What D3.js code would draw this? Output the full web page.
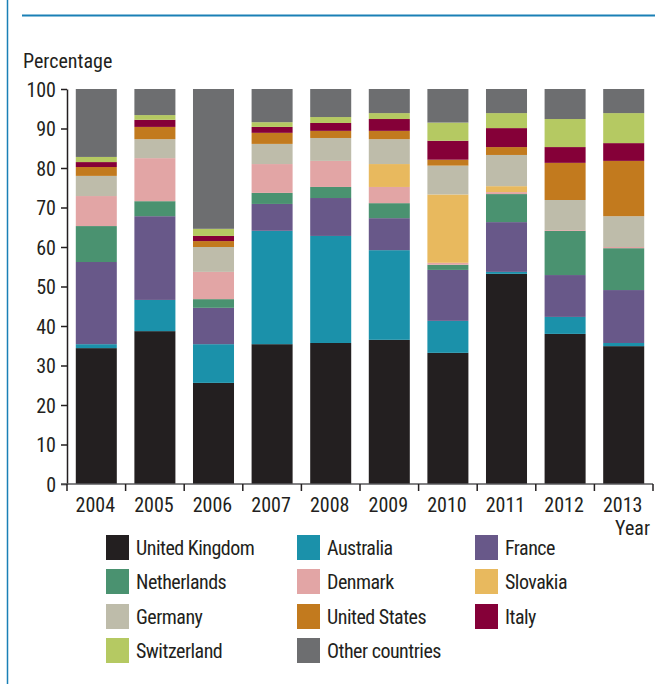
<!DOCTYPE html>
<html>
<head>
<meta charset="utf-8">
<script src="https://cdn.jsdelivr.net/npm/d3@7/dist/d3.min.js"></script>
<style>
  html, body { margin: 0; padding: 0; background: #fff; }
  svg { display: block; }
  text { font-family: "Liberation Sans Narrow", "Roboto Condensed", "DejaVu Sans Condensed", sans-serif; fill: #231f20; }
</style>
</head>
<body>
<svg id="chart" width="659" height="684"></svg>
<script>
const years = ["2004","2005","2006","2007","2008","2009","2010","2011","2012","2013"];
const countries = ["United Kingdom","Australia","France","Netherlands","Denmark","Slovakia","Germany","United States","Italy","Switzerland","Other countries"];
const colors = ["#231f20","#1b91aa","#685889","#4a9270","#e2a5a5","#e8b95e","#bebcaa","#c27a1e","#850038","#b5c962","#6d6e70"];
const unitedKingdom  = [34.4, 38.7, 25.6, 35.4, 35.7, 36.5, 33.2, 53.2, 38.0, 34.9];
const australia      = [1.0, 7.9, 9.8, 28.7, 27.1, 22.7, 8.1, 0.5, 4.3, 0.8];
const france         = [20.8, 21.2, 9.2, 6.8, 9.6, 8.1, 12.9, 12.6, 10.6, 13.4];
const netherlands    = [9.1, 3.8, 2.2, 2.8, 2.8, 3.8, 1.3, 7.1, 11.2, 10.6];
const denmark        = [7.6, 10.9, 6.9, 7.3, 6.6, 4.1, 0.5, 0.5, 0.2, 0.3];
const slovakia       = [0, 0, 0, 0, 0, 5.8, 17.3, 1.5, 0, 0];
const germany        = [5.1, 4.8, 6.3, 5.1, 5.8, 6.3, 7.3, 7.9, 7.6, 7.8];
const unitedStates   = [2.25, 3.1, 1.5, 2.8, 1.8, 2.1, 1.5, 2.0, 9.4, 14.0];
const italy          = [1.25, 1.8, 1.3, 1.5, 2.0, 3.0, 4.8, 4.8, 4.0, 4.5];
const switzerland    = [1.3, 1.2, 1.8, 1.2, 1.5, 1.5, 4.6, 3.8, 7.1, 7.6];
const otherCountries = [17.2, 6.6, 35.4, 8.4, 7.1, 6.1, 8.5, 6.1, 7.6, 6.1];
const yTicks = [0,10,20,30,40,50,60,70,80,90,100];

const series = [unitedKingdom, australia, france, netherlands, denmark, slovakia, germany, unitedStates, italy, switzerland, otherCountries];
const table = years.map((y, i) => {
  const row = { year: y };
  countries.forEach((c, j) => { row[c] = series[j][i]; });
  return row;
});

const svg = d3.select("#chart");

// frame decorations
svg.append("line").attr("x1", 7.5).attr("x2", 7.5).attr("y1", 0).attr("y2", 684)
  .attr("stroke", "#1a80b6").attr("stroke-width", 1.5);
svg.append("line").attr("x1", 22).attr("x2", 655).attr("y1", 15.5).attr("y2", 15.5)
  .attr("stroke", "#1a80b6").attr("stroke-width", 2);

const x = d3.scaleBand().domain(years).range([67, 653]).paddingInner(0.3).paddingOuter(0.15);
const y = d3.scaleLinear().domain([0, 100]).range([484, 89]);

const stacked = d3.stack().keys(countries)(table);

svg.append("g").selectAll("g").data(stacked).join("g")
  .attr("fill", (d, i) => colors[i])
  .selectAll("rect").data(d => d).join("rect")
  .attr("x", d => x(d.data.year))
  .attr("width", x.bandwidth())
  .attr("y", d => y(d[1]))
  .attr("height", d => Math.max(0, y(d[0]) - y(d[1])));

// y axis
const yAxis = svg.append("g").attr("transform", "translate(67,0)")
  .call(d3.axisLeft(y).tickValues(yTicks).tickSize(6).tickPadding(5).tickSizeOuter(0));
yAxis.select(".domain").attr("stroke", "#231f20").attr("stroke-width", 1.5);
yAxis.selectAll(".tick line").attr("stroke", "#231f20").attr("stroke-width", 1.5);
yAxis.selectAll(".tick text").style("font-size", "20px").attr("dy", "0.35em").style("fill", "#231f20");

// x axis
const step = x.step();
const edge = d => x(d) - x.paddingInner() * step / 2;
const xg = svg.append("g");
xg.append("line").attr("x1", 61).attr("x2", 653).attr("y1", 484).attr("y2", 484)
  .attr("stroke", "#58595b").attr("stroke-width", 1.5);
const tickXs = years.map(edge).concat([edge(years[years.length - 1]) + step]);
xg.selectAll("line.tk").data(tickXs).join("line").attr("class", "tk")
  .attr("x1", d => d).attr("x2", d => d).attr("y1", 484).attr("y2", 491)
  .attr("stroke", "#231f20").attr("stroke-width", 1.5);
xg.selectAll("text").data(years).join("text")
  .attr("x", d => x(d) + x.bandwidth() / 2 - 1)
  .attr("y", 512)
  .attr("text-anchor", "middle")
  .style("font-size", "20px")
  .text(d => d);

svg.append("text").attr("x", 650).attr("y", 535).attr("text-anchor", "end")
  .style("font-size", "20px").text("Year");
svg.append("text").attr("x", 23).attr("y", 68)
  .style("font-size", "20px").text("Percentage");

// legend
const colX = [106, 297, 475];
const rowY = [535, 569, 604, 638];
const lg = svg.append("g").selectAll("g").data(countries).join("g")
  .attr("transform", (d, i) => `translate(${colX[i % 3]},${rowY[Math.floor(i / 3)]})`);
lg.append("rect").attr("width", 23).attr("height", 25).attr("fill", (d, i) => colors[i]);
lg.append("text").attr("x", 30).attr("y", 20).style("font-size", "20px")
  .style("letter-spacing", "-0.5px").text(d => d);
</script>
</body>
</html>
